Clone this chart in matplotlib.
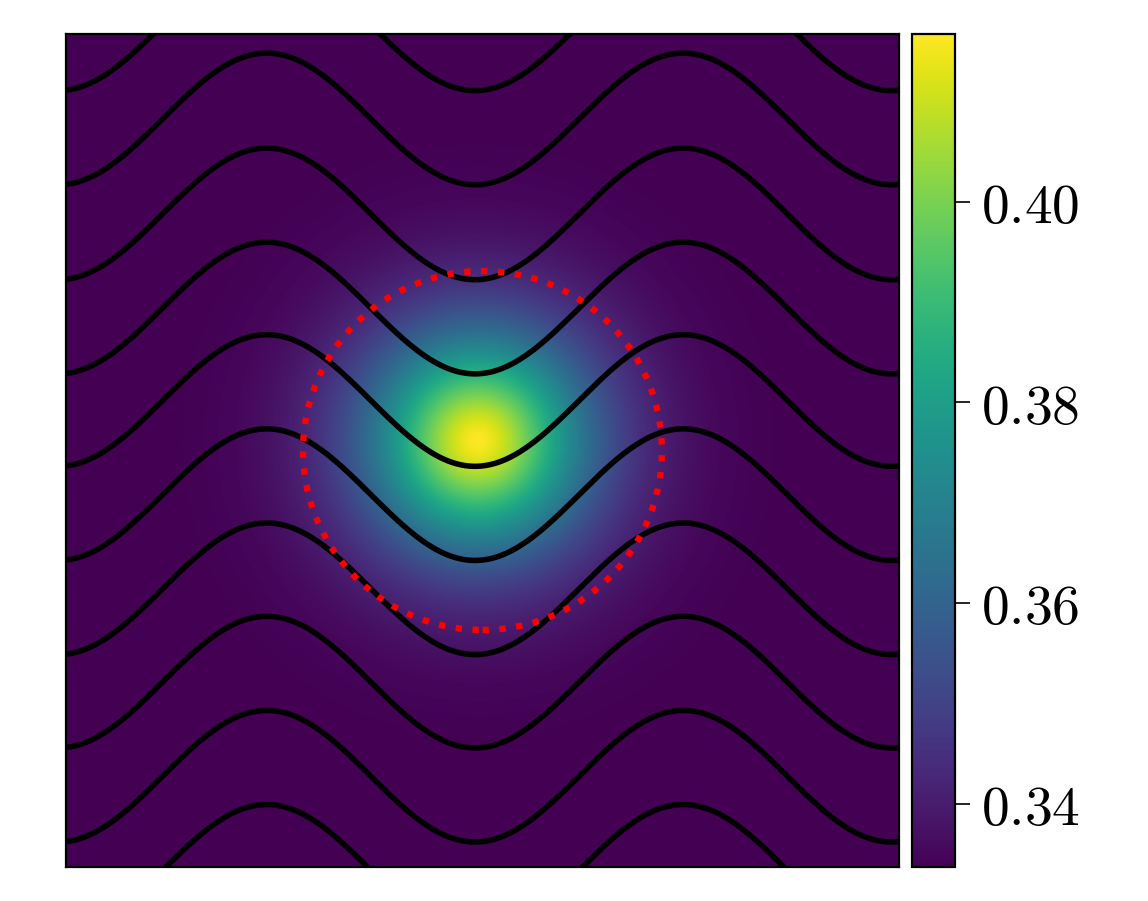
import numpy as np
import matplotlib
matplotlib.use("Agg")
import matplotlib.pyplot as plt
from matplotlib.patches import Circle

# Fuente tipo LaTeX (Computer Modern)
plt.rcParams['mathtext.fontset'] = 'cm'
plt.rcParams['font.family'] = 'serif'

# Campo (mancha central)
campo_base = 0.3337
campo_pico = 0.0830
mancha_centro = (0.4946, 0.511)
mancha_ancho = 0.13
mancha_forma = 1.7

# Lineas onduladas: desplazamiento vertical de cada linea
lineas_offset = [-0.004, 0.109, 0.222, 0.334, 0.447, 0.560, 0.671, 0.784, 0.898, 1.011]
onda_amplitud = 0.079
onda_periodo = 0.5
onda_valle = 0.491

# Circulo punteado
circulo_centro = (0.5, 0.5)
circulo_radio = 0.2154

# Ticks de la barra de color
cbar_ticks = [0.34, 0.36, 0.38, 0.40]
cbar_labels = [r'$0.34$', r'$0.36$', r'$0.38$', r'$0.40$']

# Malla para el campo
n = 600
xs = np.linspace(0, 1, n)
X, Y = np.meshgrid(xs, xs)
R = np.sqrt((X - mancha_centro[0])**2 + (Y - mancha_centro[1])**2)
Z = campo_base + campo_pico * np.exp(-(R / mancha_ancho)**mancha_forma)

fig = plt.figure(figsize=(5.74, 4.505), dpi=200)
ax = fig.add_axes([0.0575, 0.0377, 0.7256, 0.9246])
cax = fig.add_axes([0.7944, 0.0377, 0.0375, 0.9246])

im = ax.imshow(Z, extent=[0, 1, 0, 1], origin='lower', cmap='viridis',
               aspect='auto', interpolation='bilinear')

# Lineas negras
x = np.linspace(0, 1, 800)
for c in lineas_offset:
    y = c - onda_amplitud * np.cos(2 * np.pi * (x - onda_valle) / onda_periodo)
    ax.plot(x, y, color='black', lw=2.0, zorder=2)

# Circulo rojo punteado
ax.add_patch(Circle(circulo_centro, circulo_radio, fill=False, ec='red',
                    ls=':', lw=2.3, zorder=3))

ax.set_xlim(0, 1)
ax.set_ylim(0, 1)
ax.set_xticks([])
ax.set_yticks([])
for s in ax.spines.values():
    s.set_linewidth(0.8)

cb = fig.colorbar(im, cax=cax)
cb.set_ticks(cbar_ticks)
cb.set_ticklabels(cbar_labels)
cb.ax.tick_params(labelsize=20, length=5.5, width=0.6, pad=4)
cb.outline.set_linewidth(0.8)

plt.savefig('out.png', dpi=200)
